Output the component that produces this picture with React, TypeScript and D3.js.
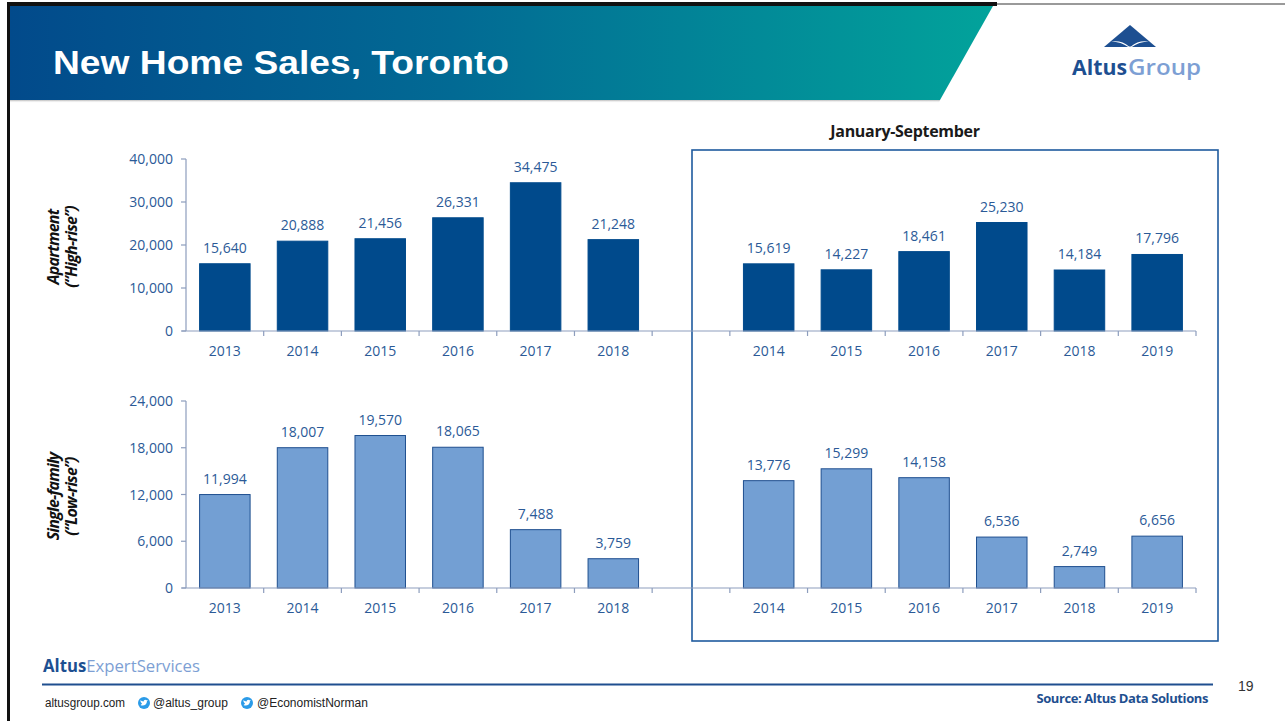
import React from "react";
import * as d3 from "d3";

const annualYears = ["2013", "2014", "2015", "2016", "2017", "2018"];
const ytdYears = ["2014", "2015", "2016", "2017", "2018", "2019"];
const apartmentAnnual = [15640, 20888, 21456, 26331, 34475, 21248];
const apartmentYtd = [15619, 14227, 18461, 25230, 14184, 17796];
const singleAnnual = [11994, 18007, 19570, 18065, 7488, 3759];
const singleYtd = [13776, 15299, 14158, 6536, 2749, 6656];
const apartmentTicks = [0, 10000, 20000, 30000, 40000];
const singleTicks = [0, 6000, 12000, 18000, 24000];

const keys = [
  ...annualYears.map((y) => "a" + y),
  "gap",
  ...ytdYears.map((y) => "y" + y),
];

const W = 1285;
const H = 721;
const X0 = 186;
const X1 = 1196;

const x = d3.scaleBand<string>().domain(keys).range([X0, X1]).paddingInner(0.35).paddingOuter(0.175);
const fmt = d3.format(",");

const AXIS = "#8d9dbd";
const LABEL = "#2b5a97";
const FONT = "'Open Sans', 'Noto Sans', sans-serif";
const ARIAL = "'Liberation Sans', Arial, sans-serif";

type PanelProps = {
  annual: number[];
  ytd: number[];
  ticks: number[];
  yTop: number;
  yBottom: number;
  fill: string;
  stroke: string;
  title1: string;
  title2: string;
};

function Panel({ annual, ytd, ticks, yTop, yBottom, fill, stroke, title1, title2 }: PanelProps) {
  const y = d3.scaleLinear().domain([0, ticks[ticks.length - 1]]).range([yBottom, yTop]);
  const items = [
    ...annualYears.map((yr, i) => ({ key: "a" + yr, label: yr, v: annual[i] })),
    ...ytdYears.map((yr, i) => ({ key: "y" + yr, label: yr, v: ytd[i] })),
  ];
  const step = x.step();
  const boundaries = d3.range(1, keys.length + 1).map((i) => X0 + i * step);
  const midY = (yTop + yBottom) / 2 + 2;
  return (
    <g>
      <g transform={`translate(0, ${midY}) rotate(-90)`}>
        <text x={0} y={59} textAnchor="middle" fontFamily={FONT} fontStyle="italic" fontWeight={700} fontSize={16} letterSpacing={-0.8} fill="#111">
          {title1}
        </text>
        <text x={0} y={77} textAnchor="middle" fontFamily={FONT} fontStyle="italic" fontWeight={700} fontSize={16} letterSpacing={-0.8} fill="#111">
          {title2}
        </text>
      </g>
      {items.map((d) => (
        <g key={d.key}>
          <rect
            x={x(d.key)!}
            y={y(d.v)}
            width={x.bandwidth()}
            height={yBottom - y(d.v)}
            fill={fill}
            stroke={stroke}
            strokeWidth={1}
          />
          <text x={x(d.key)! + x.bandwidth() / 2} y={y(d.v) - 11} textAnchor="middle" fontFamily={FONT} fontSize={14} fill={LABEL}>
            {fmt(d.v)}
          </text>
          <text x={x(d.key)! + x.bandwidth() / 2} y={yBottom + 25} textAnchor="middle" fontFamily={FONT} fontSize={14} fill={LABEL}>
            {d.label}
          </text>
        </g>
      ))}
      <line x1={X0} x2={X0} y1={yTop} y2={yBottom} stroke={AXIS} strokeWidth={1.2} />
      {ticks.map((t) => (
        <g key={t}>
          <line x1={X0 - 5} x2={X0} y1={y(t)} y2={y(t)} stroke={AXIS} strokeWidth={1.2} />
          <text x={X0 - 13} y={y(t) + 5} textAnchor="end" fontFamily={FONT} fontSize={14} fill={LABEL}>
            {fmt(t)}
          </text>
        </g>
      ))}
      <line x1={X0 - 4} x2={X1} y1={yBottom} y2={yBottom} stroke={AXIS} strokeWidth={1.2} />
      {boundaries.map((bx, i) => (
        <line key={i} x1={bx} x2={bx} y1={yBottom} y2={yBottom + 5} stroke={AXIS} strokeWidth={1.2} />
      ))}
    </g>
  );
}

function TwitterIcon({ cx, cy }: { cx: number; cy: number }) {
  return (
    <g>
      <circle cx={cx} cy={cy} r={6} fill="#2b9be8" />
      <path
        d={`M${cx - 3.5},${cy + 2} C${cx - 1},${cy + 3.5} ${cx + 3},${cy + 2} ${cx + 3},${cy - 2} L${cx + 4},${cy - 3} L${cx + 2.5},${cy - 2.8} C${cx + 1.5},${cy - 4} ${cx - 0.5},${cy - 3} ${cx - 0.3},${cy - 1.5} C${cx - 2},${cy - 1.6} ${cx - 3},${cy - 2.5} ${cx - 3.5},${cy - 3} C${cx - 4},${cy - 1} ${cx - 2.5},${cy} ${cx - 2},${cy + 0.3} C${cx - 2.5},${cy + 1.5} ${cx - 3},${cy + 1.7} ${cx - 3.5},${cy + 2} Z`}
        fill="#fff"
      />
    </g>
  );
}

export default function App() {
  return (
    <svg width={W} height={H} viewBox={`0 0 ${W} ${H}`} style={{ position: "absolute", left: 0, top: 0, background: "#fff" }}>
      <defs>
        <linearGradient id="banner" x1="0" x2="1" y1="0" y2="0">
          <stop offset="0%" stopColor="#024a8b" />
          <stop offset="45%" stopColor="#026a94" />
          <stop offset="100%" stopColor="#02a39b" />
        </linearGradient>
        <linearGradient id="shadow" x1="0" x2="0" y1="0" y2="1">
          <stop offset="0%" stopColor="#8a8a8a" stopOpacity={0.6} />
          <stop offset="100%" stopColor="#ffffff" stopOpacity={0} />
        </linearGradient>
      </defs>
      <rect x={0} y={0} width={W} height={H} fill="#fff" />
      <rect x={7} y={2} width={990} height={4} fill="#111" />
      <rect x={997} y={3} width={288} height={2} fill="#9a9a9a" />
      <rect x={7} y={2} width={3} height={H} fill="#111" />
      <polygon points="10,6 993,6 940,100 10,100" fill="url(#banner)" />
      <polygon points="10,100 940,100 939,103 10,103" fill="url(#shadow)" />
      <text x={53} y={74} fontFamily={ARIAL} fontWeight={700} fontSize={34} fill="#fff" textLength={456} lengthAdjust="spacingAndGlyphs">
        New Home Sales, Toronto
      </text>
      {/* logo */}
      <polygon points="1130,25 1156,47 1104,47" fill="#1d4f91" />
      <path d="M1111,41.5 Q1122,40 1129,46.5 L1131,46.5 Q1138,40 1149,41.5 Q1139,41.5 1131,47.5 L1129,47.5 Q1121,41.5 1111,41.5 Z" fill="#fff" />
      <text x={1072} y={75} fontFamily={FONT} fontSize={21} fontWeight={700} fill="#1d4f91" textLength={55} lengthAdjust="spacingAndGlyphs">
        Altus
      </text>
      <text x={1128} y={75} fontFamily={FONT} fontSize={21} fontWeight={600} fill="#7d9fd4" textLength={73} lengthAdjust="spacingAndGlyphs">
        Group
      </text>

      <text x={905} y={137} textAnchor="middle" fontFamily={FONT} fontWeight={700} fontSize={16} letterSpacing={-0.3} fill="#1a1a1a">
        January-September
      </text>
      <rect x={692} y={150} width={526} height={491} fill="none" stroke="#1f5a9e" strokeWidth={1.6} />

      <Panel
        annual={apartmentAnnual}
        ytd={apartmentYtd}
        ticks={apartmentTicks}
        yTop={159}
        yBottom={331}
        fill="#004a8c"
        stroke="#004a8c"
        title1="Apartment"
        title2="(“High-rise”)"
      />
      <Panel
        annual={singleAnnual}
        ytd={singleYtd}
        ticks={singleTicks}
        yTop={401}
        yBottom={588}
        fill="#739fd3"
        stroke="#1f4f8f"
        title1="Single-family"
        title2="(“Low-rise”)"
      />

      <text x={43} y={672} fontFamily={FONT} fontSize={17} textLength={157} lengthAdjust="spacingAndGlyphs">
        <tspan fontWeight={700} fill="#1d4f91">Altus</tspan>
        <tspan fontWeight={500} fill="#7d9fd4">ExpertServices</tspan>
      </text>
      <line x1={42} x2={1213} y1={684.5} y2={684.5} stroke="#1f4f8f" strokeWidth={2} />
      <text x={45} y={707} fontFamily={ARIAL} fontSize={12} fill="#222" textLength={80} lengthAdjust="spacingAndGlyphs">
        altusgroup.com
      </text>
      <TwitterIcon cx={144} cy={703} />
      <text x={153} y={707} fontFamily={ARIAL} fontSize={12} fill="#222">
        @altus_group
      </text>
      <TwitterIcon cx={247} cy={703} />
      <text x={257} y={707} fontFamily={ARIAL} fontSize={12} fill="#222">
        @EconomistNorman
      </text>
      <text x={1208} y={703} textAnchor="end" fontFamily={FONT} fontWeight={700} fontSize={13} letterSpacing={-0.4} fill="#1f4f8f">
        Source: Altus Data Solutions
      </text>
      <text x={1238} y={691} fontFamily={ARIAL} fontSize={14} fill="#333">
        19
      </text>
    </svg>
  );
}
